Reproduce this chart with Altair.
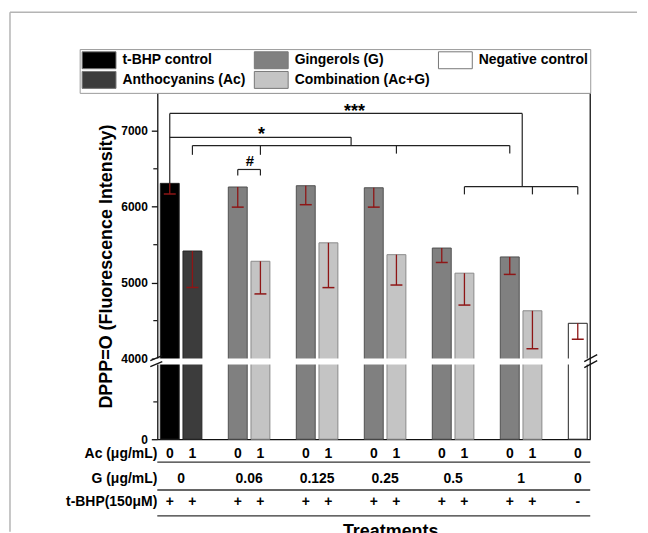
import altair as alt
import pandas as pd

FONT = "Liberation Sans"
RED = "#8e1616"
INK = "#111111"

# ---------------- data ----------------
slot = [0, 1, 3, 4, 6, 7, 9, 10, 12, 13, 15, 16, 18]
treatment = ["t-BHP control", "Anthocyanins (Ac)",
             "Gingerols (G)", "Combination (Ac+G)",
             "Gingerols (G)", "Combination (Ac+G)",
             "Gingerols (G)", "Combination (Ac+G)",
             "Gingerols (G)", "Combination (Ac+G)",
             "Gingerols (G)", "Combination (Ac+G)",
             "Negative control"]
intensity = [6308, 5417, 6260, 5282, 6277, 5525, 6250, 5369, 5456, 5125, 5339, 4630, 4465]
error = [140, 480, 265, 430, 250, 590, 255, 400, 190, 420, 230, 500, 210]

ac_dose = ["0", "1", "0", "1", "0", "1", "0", "1", "0", "1", "0", "1", "0"]
tbhp = ["+", "+", "+", "+", "+", "+", "+", "+", "+", "+", "+", "+", "-"]
g_slot = [0.5, 3.5, 6.5, 9.5, 12.5, 15.5, 18]
g_dose = ["0", "0.06", "0.125", "0.25", "0.5", "1", "0"]
row_names = ["Ac (μg/mL)", "G (μg/mL)", "t-BHP(150μM)"]

# legend entries fill column by column (2 rows)
legend_order = ["t-BHP control", "Anthocyanins (Ac)", "Gingerols (G)",
                "Combination (Ac+G)", "Negative control"]
legend_fill = ["#000000", "#3c3c3c", "#808080", "#c4c4c4", "#ffffff"]
edge_colour = {"t-BHP control": "#222222", "Anthocyanins (Ac)": "#262626",
               "Gingerols (G)": "#505050", "Combination (Ac+G)": "#8a8a8a",
               "Negative control": "#222222"}

# significance brackets (x in bar slots, y in intensity units)
br_x1 = [0, 0, 15.55, 13, 13, 16, 18, 0, 8, 1, 1, 4, 10, 15, 3, 3, 4]
br_x2 = [0, 15.55, 15.55, 18, 13, 16, 18, 8, 8, 15, 1, 4, 10, 15, 4, 3, 4]
br_y1 = [7229, 7229, 7229, 6264, 6264, 6264, 6264, 6914, 6914, 6806, 6806, 6806, 6806, 6806, 6491, 6491, 6491]
br_y2 = [6308, 7229, 6264, 6264, 6163, 6163, 6163, 6914, 6806, 6806, 6684, 6684, 6700, 6700, 6491, 6412, 6412]
sig_text = ["***", "*"]
sig_x = [8.15, 4.05]
sig_y = [7179, 6878]
hash_text = ["#"]
hash_x = [3.53]
hash_y = [6543]

upper_ticks = [4000, 5000, 6000, 7000]
upper_minor = [4500, 5500, 6500]
lower_ticks = [0]
lower_minor = [2000]

# ---------------- broken-axis layout (pixels of the plot area) ----------------
W = 435            # plot width
H_LOW = 75         # 0-4000 segment
GAP = 6            # white gap of the break
H_UP = 267         # 4000-7500 segment
H = H_LOW + GAP + H_UP
U0 = H_LOW + GAP
TABLE_ROWS = [-15, -40, -63]      # table text rows below the axis
TABLE_LINES = [-23, -51, -77]


def tu_expr(f):
    return "%d + (%s - 4000) * %d / 3500" % (U0, f, H_UP)


def tu(v):
    return U0 + (v - 4000) * H_UP / 3500


def tl(v):
    return v * H_LOW / 4000


# ---------------- frames ----------------
df = pd.DataFrame({"slot": slot, "treatment": treatment, "value": intensity, "err": error})
df["edge"] = df["treatment"].map(edge_colour)

br = pd.DataFrame({"x1": br_x1, "x2": br_x2, "y1": br_y1, "y2": br_y2})
sig = pd.DataFrame({"x": sig_x, "y": sig_y, "label": sig_text})
hsh = pd.DataFrame({"x": hash_x, "y": hash_y, "label": hash_text})

tbl = pd.concat([
    pd.DataFrame({"x": slot, "row": TABLE_ROWS[0], "label": ac_dose}),
    pd.DataFrame({"x": g_slot, "row": TABLE_ROWS[1], "label": g_dose}),
    pd.DataFrame({"x": slot, "row": TABLE_ROWS[2], "label": tbhp}),
], ignore_index=True)
rows = pd.DataFrame({"row": TABLE_ROWS, "name": row_names})
lines = pd.DataFrame({"row": TABLE_LINES})
minor = pd.DataFrame({"tm": [tu(v) for v in upper_minor] + [tl(v) for v in lower_minor]})
one = pd.DataFrame({"k": [0]})

xs = alt.Scale(domain=[-0.55, 18.55], nice=False, zero=False, padding=0)
ys = alt.Scale(domain=[0, H], nice=False, zero=False)
fill_scale = alt.Scale(domain=legend_order, range=legend_fill)

legend = alt.Legend(orient="none", legendX=-78, legendY=-44, columns=3, title=None,
                    symbolType="M-1,-1H3V1H-1Z", symbolSize=289,
                    symbolStrokeColor="#777777", symbolStrokeWidth=1,
                    labelFont=FONT, labelFontSize=14, labelFontWeight="bold",
                    labelColor="black", labelOffset=23, rowPadding=-4, columnPadding=6,
                    padding=2, strokeColor="#9a9a9a", fillColor="white",
                    labelLimit=300)

y_values = [tl(v) for v in lower_ticks] + [tu(v) for v in upper_ticks]
y_label_expr = ("datum.value > %d ? format(4000 + (datum.value - %d) * 3500 / %d, 'd') "
                ": format(datum.value * 4000 / %d, 'd')" % (H_LOW + 1, U0, H_UP, H_LOW))

xn = lambda f: alt.X(f, scale=xs, axis=None)
yn = lambda f: alt.Y(f, scale=ys, axis=None)

bars = alt.Chart(df).transform_calculate(
    ty=tu_expr("datum.value"), zero="0"
).mark_bar(size=19, strokeWidth=1).encode(
    x=alt.X("slot:Q", scale=xs,
            axis=alt.Axis(orient="bottom", labels=False, ticks=False, grid=False,
                          domainColor=INK, domainWidth=1.3,
                          title="Treatments", titleFont=FONT, titleFontSize=18,
                          titleFontWeight="bold", titleColor="black", titleX=234, titleY=98,
                          titleAlign="center", titleBaseline="alphabetic")),
    y=alt.Y("ty:Q", scale=ys,
            axis=alt.Axis(orient="left", values=y_values, labelExpr=y_label_expr, tickSize=6,
                          labelPadding=4, labelFont=FONT, labelFontSize=12,
                          labelFontWeight="bold", labelColor="black",
                          domainColor=INK, domainWidth=1.3, tickColor=INK, tickWidth=1.3,
                          grid=False, title="DPPP=O (Fluorescence Intensity)",
                          titleFont=FONT, titleFontSize=18, titleFontWeight="bold",
                          titleColor="black", titleX=-46, titleY=H / 2, titleAngle=270,
                          titleAlign="center", titleBaseline="alphabetic")),
    y2="zero:Q",
    fill=alt.Fill("treatment:N", scale=fill_scale, legend=legend),
    stroke=alt.Stroke("edge:N", scale=None),
)

err_rule = alt.Chart(df).transform_calculate(
    ty=tu_expr("datum.value"), tlo=tu_expr("(datum.value - datum.err)")
).mark_rule(color=RED, strokeWidth=1.3).encode(x=xn("slot:Q"), y=yn("ty:Q"), y2="tlo:Q")
err_cap = alt.Chart(df).transform_calculate(
    tlo=tu_expr("(datum.value - datum.err)")
).mark_rule(color=RED, strokeWidth=1.5, xOffset=-6, x2Offset=6).encode(
    x=xn("slot:Q"), x2="slot:Q", y=yn("tlo:Q"))

brackets = alt.Chart(br).transform_calculate(
    t1=tu_expr("datum.y1"), t2=tu_expr("datum.y2")
).mark_rule(color="#222222", strokeWidth=1.2).encode(
    x=xn("x1:Q"), x2="x2:Q", y=yn("t1:Q"), y2="t2:Q")
stars = alt.Chart(sig).transform_calculate(ty=tu_expr("datum.y")).mark_text(
    font=FONT, fontSize=18, fontWeight="bold", color="black", baseline="alphabetic"
).encode(x=xn("x:Q"), y=yn("ty:Q"), text="label:N")
hashes = alt.Chart(hsh).transform_calculate(ty=tu_expr("datum.y")).mark_text(
    font=FONT, fontSize=15, fontWeight="bold", color="black", baseline="alphabetic"
).encode(x=xn("x:Q"), y=yn("ty:Q"), text="label:N")

minor_ticks = alt.Chart(minor).mark_rule(color=INK, strokeWidth=1.2).encode(
    x=alt.value(-4), x2=alt.value(0), y=yn("tm:Q"))

frame_top = alt.Chart(one).mark_rule(color=INK, strokeWidth=1.3).encode(
    x=alt.value(0), x2=alt.value(W), y=alt.value(0))
frame_right = alt.Chart(one).mark_rule(color=INK, strokeWidth=1.3).encode(
    x=alt.value(W), y=alt.value(0), y2=alt.value(H))
gap_band = alt.Chart(one).mark_rect(color="white").encode(
    x=alt.value(-3), x2=alt.value(W + 3), y=alt.value(H - U0), y2=alt.value(H - H_LOW))


def seg(x1, y1, x2, y2):
    return alt.Chart(one).mark_rule(color=INK, strokeWidth=1.3).encode(
        x=alt.value(x1), x2=alt.value(x2), y=alt.value(y1), y2=alt.value(y2))


gy = H - H_LOW - GAP / 2
breaks = [seg(-7, gy - 1, 5, gy - 6), seg(-7, gy + 5, 5, gy),
          seg(W - 6, gy, W + 7, gy - 7), seg(W - 6, gy + 6, W + 7, gy - 1)]

outer_top = alt.Chart(one).mark_rule(color="#b4b4b4", strokeWidth=1.5).encode(
    x=alt.value(-148), x2=alt.value(482), y=alt.value(-81))
outer_left = alt.Chart(one).mark_rule(color="#b4b4b4", strokeWidth=1.5).encode(
    x=alt.value(-148), y=alt.value(-81), y2=alt.value(441))

# treatment table under the axis
tbl_text = alt.Chart(tbl).mark_text(font=FONT, fontSize=14, fontWeight="bold", color="black",
                                    baseline="middle").encode(
    x=xn("x:Q"), y=yn("row:Q"), text="label:N")
row_text = alt.Chart(rows).mark_text(font=FONT, fontSize=14, fontWeight="bold", color="black",
                                     baseline="middle", align="right").encode(
    x=alt.value(0), y=yn("row:Q"), text="name:N")
tbl_rules = alt.Chart(lines).mark_rule(color="#333333", strokeWidth=1.3).encode(
    x=alt.value(0), x2=alt.value(W), y=yn("row:Q"))

chart = alt.layer(
    bars, err_rule, err_cap, gap_band, frame_top, frame_right, *breaks,
    brackets, stars, hashes, minor_ticks, tbl_text, row_text, tbl_rules,
    outer_top, outer_left,
).resolve_axis(x="independent", y="independent").properties(
    width=W, height=H, padding={"left": 1, "top": 2, "right": 2, "bottom": 0}
).configure(font=FONT).configure_view(strokeWidth=0)

chart.save("out.html", embed_options={"renderer": "svg", "actions": False})
